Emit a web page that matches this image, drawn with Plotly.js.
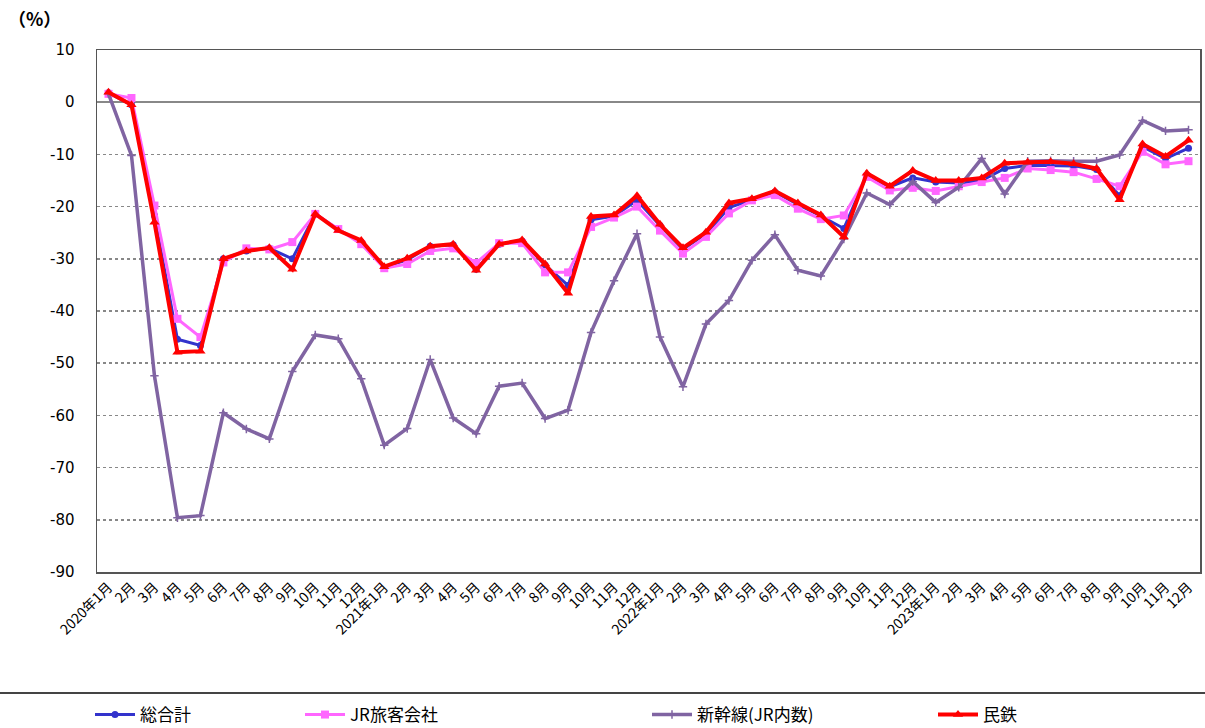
<!DOCTYPE html>
<html><head><meta charset="utf-8">
<script src="https://cdn.plot.ly/plotly-3.0.1.min.js"></script>
<style>html,body{margin:0;padding:0;background:#fff;}#chart{width:1205px;height:728px;}</style>
</head><body><div id="chart"></div>
<script>
const categories = ["2020年1月","2月","3月","4月","5月","6月","7月","8月","9月","10月","11月","12月",
"2021年1月","2月","3月","4月","5月","6月","7月","8月","9月","10月","11月","12月",
"2022年1月","2月","3月","4月","5月","6月","7月","8月","9月","10月","11月","12月",
"2023年1月","2月","3月","4月","5月","6月","7月","8月","9月","10月","11月","12月"];
const seriesNames = ["総合計","JR旅客会社","新幹線(JR内数)","民鉄"];
const total = [1.8,-0.5,-21.7,-45.4,-46.6,-30.0,-28.5,-28.0,-30.0,-21.4,-24.4,-26.8,
-31.6,-30.2,-27.6,-27.3,-32.0,-27.2,-26.6,-31.2,-35.1,-22.5,-21.8,-18.8,
-23.6,-28.2,-25.2,-20.2,-18.7,-17.2,-19.6,-21.8,-24.2,-14.0,-16.2,-14.5,
-15.3,-15.5,-15.0,-12.7,-12.1,-12.1,-12.2,-12.9,-17.9,-8.5,-10.8,-8.8];
const jr = [1.6,0.8,-19.8,-41.5,-45.0,-30.7,-28.0,-28.2,-26.8,-21.4,-24.3,-27.2,
-31.8,-31.0,-28.5,-28.0,-30.8,-27.0,-27.0,-32.6,-32.6,-23.9,-22.1,-20.0,
-24.6,-29.0,-25.8,-21.3,-18.8,-17.8,-20.4,-22.4,-21.7,-14.3,-16.9,-16.4,
-17.0,-16.1,-15.3,-14.5,-12.7,-13.0,-13.4,-14.7,-16.1,-9.5,-11.9,-11.3];
const shinkansen = [1.6,-10.2,-52.4,-79.6,-79.2,-59.5,-62.6,-64.5,-51.6,-44.6,-45.3,-53.0,
-65.7,-62.5,-49.3,-60.5,-63.5,-54.4,-53.8,-60.6,-59.0,-44.1,-34.2,-25.2,
-45.0,-54.5,-42.5,-38.0,-30.3,-25.4,-32.2,-33.3,-26.2,-17.4,-19.6,-15.2,
-19.2,-16.3,-10.8,-17.6,-11.3,-11.2,-11.3,-11.3,-10.1,-3.5,-5.5,-5.3];
const minTetsu = [1.9,-0.5,-23.0,-47.9,-47.7,-30.0,-28.5,-27.9,-32.0,-21.4,-24.6,-26.5,
-31.5,-29.9,-27.6,-27.2,-32.2,-27.2,-26.4,-31.0,-36.6,-21.9,-21.6,-17.9,
-23.4,-27.9,-24.9,-19.3,-18.5,-17.0,-19.3,-21.6,-25.8,-13.6,-16.1,-13.1,
-15.0,-15.0,-14.5,-11.7,-11.5,-11.4,-11.8,-12.7,-18.7,-8.0,-10.4,-7.3];
const yTicks = [10,0,-10,-20,-30,-40,-50,-60,-70,-80,-90];

const xs = categories.map((_, i) => i);
const cjk = '"Noto Sans CJK JP", "Noto Sans", sans-serif';

const traces = [
 {x: xs, y: total, name: seriesNames[0], type:'scatter', mode:'lines+markers',
  line:{color:'#3333cc', width:3}, marker:{symbol:'circle', size:7, color:'#3333cc'}, legend:'legend'},
 {x: xs, y: jr, name: seriesNames[1], type:'scatter', mode:'lines+markers',
  line:{color:'#ff66ff', width:3}, marker:{symbol:'square', size:8, color:'#ff66ff'}, legend:'legend2'},
 {x: xs, y: shinkansen, name: seriesNames[2], type:'scatter', mode:'lines+markers',
  line:{color:'#8064a2', width:3.5}, marker:{symbol:'cross-thin', size:6, line:{color:'#8064a2', width:1.5}}, legend:'legend3'},
 {x: xs, y: minTetsu, name: seriesNames[3], type:'scatter', mode:'lines+markers',
  line:{color:'#ff0000', width:4}, marker:{symbol:'triangle-up', size:9, color:'#ff0000'}, legend:'legend4'}
];

const L = 97, W = 1103, T = 50, H = 522, FW = 1205, FH = 728;
function px2x(p){ return (p - L) / W; }
function py2y(p){ return (T + H - p) / H; }
const legBase = {orientation:'h', yanchor:'middle', xanchor:'left', xref:'container', yref:'container',
  y: 1 - 715/FH, itemwidth:40, font:{family: cjk, size:17, color:'#000'}, bgcolor:'rgba(0,0,0,0)', borderwidth:0};

const layout = {
  width:FW, height:FH,
  margin:{l:L, r:FW-L-W, t:T, b:FH-T-H, autoexpand:false},
  paper_bgcolor:'#fff', plot_bgcolor:'#fff',
  showlegend:true,
  legend: Object.assign({}, legBase, {x: 90/FW}),
  legend2: Object.assign({}, legBase, {x: 300/FW}),
  legend3: Object.assign({}, legBase, {x: 647/FW}),
  legend4: Object.assign({}, legBase, {x: 933/FW}),
  xaxis:{
    range:[-0.5, categories.length-0.5], tickmode:'array', tickvals: xs, ticktext: categories,
    tickangle:-45, tickfont:{family: cjk, size:14, color:'#000'}, automargin:false,
    showgrid:false, zeroline:false, showline:true, linecolor:'#555', linewidth:1.5, mirror:true,
    ticks:'', fixedrange:true
  },
  yaxis:{
    range:[-90, 10], tickmode:'array', tickvals: yTicks, ticktext: yTicks.map(String), automargin:false,
    tickfont:{family:'"DejaVu Sans", sans-serif', size:15, color:'#000', weight:'normal'},
    showgrid:true, gridcolor:'#888', gridwidth:1.5, griddash:'dot',
    zeroline:true, zerolinecolor:'#888', zerolinewidth:1.5,
    showline:true, linecolor:'#555', linewidth:1.5, mirror:true,
    ticks:'', ticklabelstandoff:18, fixedrange:true
  },
  shapes:[
    {type:'line', xref:'paper', yref:'paper', x0: px2x(0), x1: px2x(FW), y0: py2y(693), y1: py2y(693),
     line:{color:'#444', width:2}}
  ],
  annotations:[
    {text:'（%）', xref:'paper', yref:'paper', x: px2x(6), y: py2y(18), xanchor:'left', yanchor:'middle',
     showarrow:false, font:{family: cjk, size:18, color:'#000', weight:'bold'}}
  ]
};
Plotly.newPlot('chart', traces, layout, {displayModeBar:false, staticPlot:true});
</script></body></html>
